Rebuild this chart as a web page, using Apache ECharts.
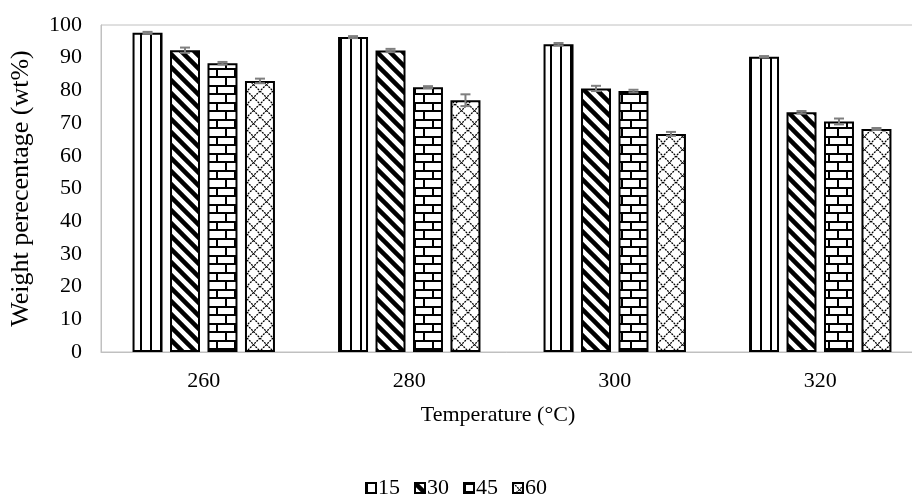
<!DOCTYPE html>
<html><head><meta charset="utf-8">
<script src="https://cdn.jsdelivr.net/npm/echarts@6/dist/echarts.min.js"></script>
<style>html,body{margin:0;padding:0;background:#fff}#c{width:912px;height:496px}</style>
</head><body><div id="c"></div>
<script>
var categories = ['260', '280', '300', '320'];
var seriesNames = ['15', '30', '45', '60'];
var v15 = [97.6, 96.3, 94.1, 90.3];
var v30 = [92.3, 92.2, 80.6, 73.3];
var v45 = [88.3, 81.0, 79.8, 70.5];
var v60 = [82.9, 77.0, 66.7, 68.2];
var e15 = [0.3, 0.3, 0.4, 0.2];
var e30 = [0.8, 0.5, 0.8, 0.4];
var e45 = [0.4, 0.3, 0.4, 0.9];
var e60 = [0.7, 1.8, 0.6, 0.3];
var yTicks = [0, 10, 20, 30, 40, 50, 60, 70, 80, 90, 100];

var values = [v15, v30, v45, v60];
var errors = [e15, e30, e45, e60];

function tile(w, h, draw) {
  var c = document.createElement('canvas');
  c.width = w; c.height = h;
  var g = c.getContext('2d');
  g.fillStyle = '#fff'; g.fillRect(0, 0, w, h);
  g.fillStyle = '#000'; g.strokeStyle = '#000';
  draw(g, w, h);
  return c;
}
var pats = [
  tile(10, 2, function (g, w, h) { g.fillRect(0, 0, 2, h); }),
  tile(13, 13, function (g, w, h) {
    g.lineWidth = 4.5;
    for (var k = -1; k <= 1; k++) { g.beginPath(); g.moveTo(k * w - 2, -2); g.lineTo(k * w + w + 2, h + 2); g.stroke(); }
  }),
  tile(18, 17, function (g, w, h) {
    g.fillRect(0, 0, w, 2); g.fillRect(0, 8, w, 2);
    g.fillRect(0, 0, 2, 8); g.fillRect(9, 8, 2, 9);
  }),
  tile(13, 13, function (g, w, h) {
    g.lineWidth = 1.3; g.setLineDash([2, 1]);
    g.beginPath(); g.moveTo(0, 0); g.lineTo(w, h); g.stroke();
    g.beginPath(); g.moveTo(w, 0); g.lineTo(0, h); g.stroke();
  })
];

var BAR_GAP = 0.25, CAT_GAP = 0.307, N = 4;
var series = [];
values.forEach(function (vals, i) {
  series.push({
    name: seriesNames[i], type: 'bar', data: vals,
    barGap: '25%', barCategoryGap: '30.7%',
    itemStyle: { color: { image: pats[i], repeat: 'repeat' }, borderColor: '#000', borderWidth: 2 }
  });
});
values.forEach(function (vals, i) {
  series.push({
    type: 'custom', name: 'err' + i, silent: true, z: 5,
    data: vals.map(function (v, j) { return [j, v - errors[i][j], v + errors[i][j]]; }),
    renderItem: function (params, api) {
      var band = api.size([1, 0])[0];
      var bw = band * (1 - CAT_GAP) / (N + (N - 1) * BAR_GAP);
      var off = -(N * bw + (N - 1) * BAR_GAP * bw) / 2 + i * bw * (1 + BAR_GAP) + bw / 2;
      var lo = api.coord([api.value(0), api.value(1)]);
      var hi = api.coord([api.value(0), api.value(2)]);
      var x = lo[0] + off, cw = 5;
      var st = { stroke: '#7f7f7f', lineWidth: 2 };
      return { type: 'group', children: [
        { type: 'line', shape: { x1: x, y1: lo[1], x2: x, y2: hi[1] }, style: st },
        { type: 'line', shape: { x1: x - cw, y1: hi[1], x2: x + cw, y2: hi[1] }, style: st },
        { type: 'line', shape: { x1: x - cw, y1: lo[1], x2: x + cw, y2: lo[1] }, style: st }
      ]};
    }
  });
});

var font = '"Liberation Serif", "Times New Roman", serif';
var chart = echarts.init(document.getElementById('c'), null, { renderer: 'canvas' });
chart.setOption({
  animation: false,
  backgroundColor: '#fff',
  grid: { left: 101, width: 822, top: 25, bottom: 144, show: true, borderColor: '#c0c0c0', borderWidth: 1, containLabel: false, outerBoundsMode: 'none' },
  legend: {
    data: seriesNames, top: 472, left: 'center', icon: 'rect', itemWidth: 10, itemHeight: 10, itemGap: 14,
    textStyle: { fontFamily: font, fontSize: 22, color: '#000', padding: [0, 0, 0, -3] }
  },
  xAxis: {
    type: 'category', data: categories,
    axisLine: { show: true, lineStyle: { color: '#c0c0c0', width: 1 } },
    axisTick: { show: false },
    axisLabel: { fontFamily: font, fontSize: 22, color: '#000', margin: 18 },
    name: 'Temperature (°C)', nameLocation: 'middle', nameGap: 52,
    nameTextStyle: { fontFamily: font, fontSize: 22, color: '#000', padding: [0, 28, 0, 0] }
  },
  yAxis: {
    type: 'value', min: yTicks[0], max: yTicks[yTicks.length - 1], interval: 10,
    axisLine: { show: true, lineStyle: { color: '#c0c0c0', width: 1 } },
    axisTick: { show: false },
    splitLine: { show: false },
    axisLabel: { fontFamily: font, fontSize: 22, color: '#000', margin: 19 },
    name: 'Weight perecentage (wt%)', nameLocation: 'middle', nameGap: 67,
    nameTextStyle: { fontFamily: font, fontSize: 26, color: '#000' }
  },
  series: series
});
</script></body></html>
